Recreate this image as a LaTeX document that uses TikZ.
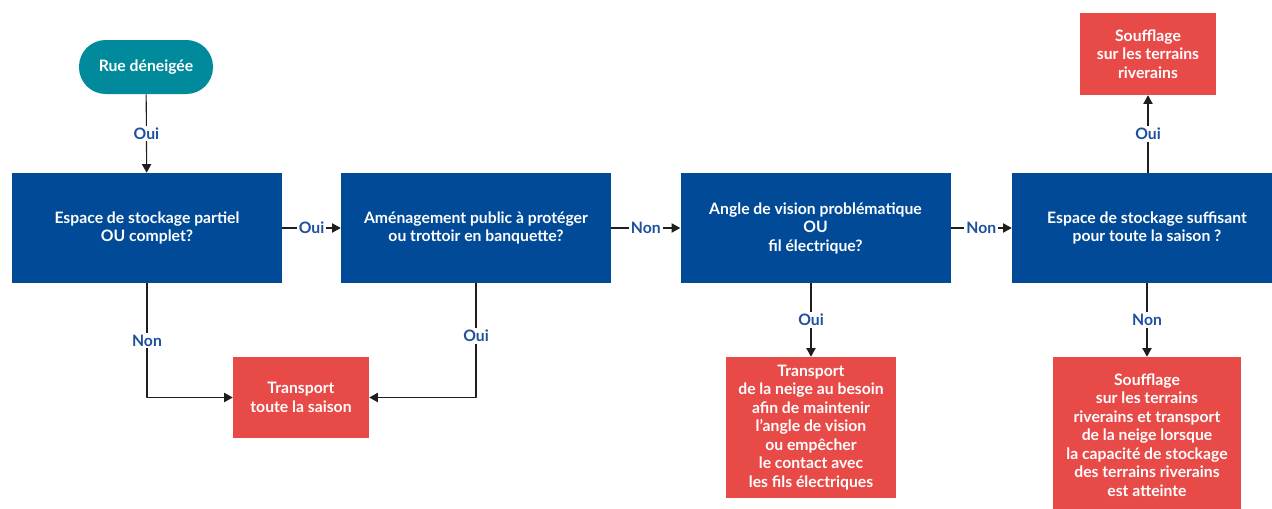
\documentclass[tikz,border=0pt]{standalone}
\usepackage{fontspec}
\setmainfont{Lato}
\usetikzlibrary{arrows.meta}
\definecolor{bleu}{RGB}{0,74,152}
\definecolor{rouge}{RGB}{232,74,72}
\definecolor{sarcelle}{RGB}{0,138,155}
\definecolor{bleutexte}{RGB}{30,80,158}
\definecolor{trait}{RGB}{30,30,30}
\begin{document}
\begin{tikzpicture}[x=.75pt, y=-.75pt, font=\bfseries\fontsize{11.8}{13.9}\selectfont, line join=round, >={Triangle[width=7pt,length=6.5pt]}]
	\tikzset{
		question/.style={fill=bleu, text=white, align=center, minimum width=202.5pt, minimum height=82.5pt, inner sep=0pt},
		action/.style={fill=rouge, text=white, align=center, inner sep=0pt},
		rep/.style={fill=white, text=bleutexte, inner sep=1.5pt},
		fleche/.style={->, draw=trait, line width=.8pt}
	}
	\useasboundingbox (0,0) rectangle (1272,508);
	% depart
	\node[fill=sarcelle, text=white, rounded corners=20pt, minimum width=100.5pt, minimum height=40.5pt] (rue) at (146,67) {Rue déneigée};
	% questions
	\node[question] (q1) at (147,228) {Espace de stockage partiel\\OU complet?};
	\node[question] (q2) at (476,228) {Aménagement public à protéger\\ou trottoir en banquette?};
	\node[question] (q3) at (815.5,228) {Angle de vision problématique\\OU\\fil électrique?};
	\node[question] (q4) at (1147,228) {Espace de stockage suffisant\\pour toute la saison ?};
	% actions
	\node[action, minimum width=102pt, minimum height=60.75pt] (tr1) at (301,397.5) {Transport\\toute la saison};
	\node[action, minimum width=127.5pt, minimum height=105.75pt] (tr2) at (811,427.5) {Transport\\de la neige au besoin\\afin de maintenir\\l’angle de vision\\ou empêcher\\le contact avec\\les fils électriques};
	\node[action, minimum width=102pt, minimum height=61.5pt] (sf1) at (1148,54) {Soufflage\\sur les terrains\\riverains};
	\node[action, minimum width=141pt, minimum height=117pt] (sf2) at (1147,435) {Soufflage\\sur les terrains\\riverains et transport\\de la neige lorsque\\la capacité de stockage\\des terrains riverains\\est atteinte};
	% fleches
	\draw[fleche] (rue) -- node[rep]{Oui} (q1);
	\draw[fleche] (q1) -- node[rep]{Oui} (q2);
	\draw[fleche] (q2) -- node[rep]{Non} (q3);
	\draw[fleche] (q3) -- node[rep]{Non} (q4);
	\draw[fleche] (q1.south) |- node[rep, pos=.25]{Non} (tr1);
	\draw[fleche] (q2.south) |- node[rep, pos=.23]{Oui} (tr1);
	\draw[fleche] (q3.south -| tr2.north) -- node[rep]{Oui} (tr2);
	\draw[fleche] (q4.north -| sf1.south) -- node[rep]{Oui} (sf1);
	\draw[fleche] (q4.south -| sf2.north) -- node[rep]{Non} (sf2);
\end{tikzpicture}
\end{document}
